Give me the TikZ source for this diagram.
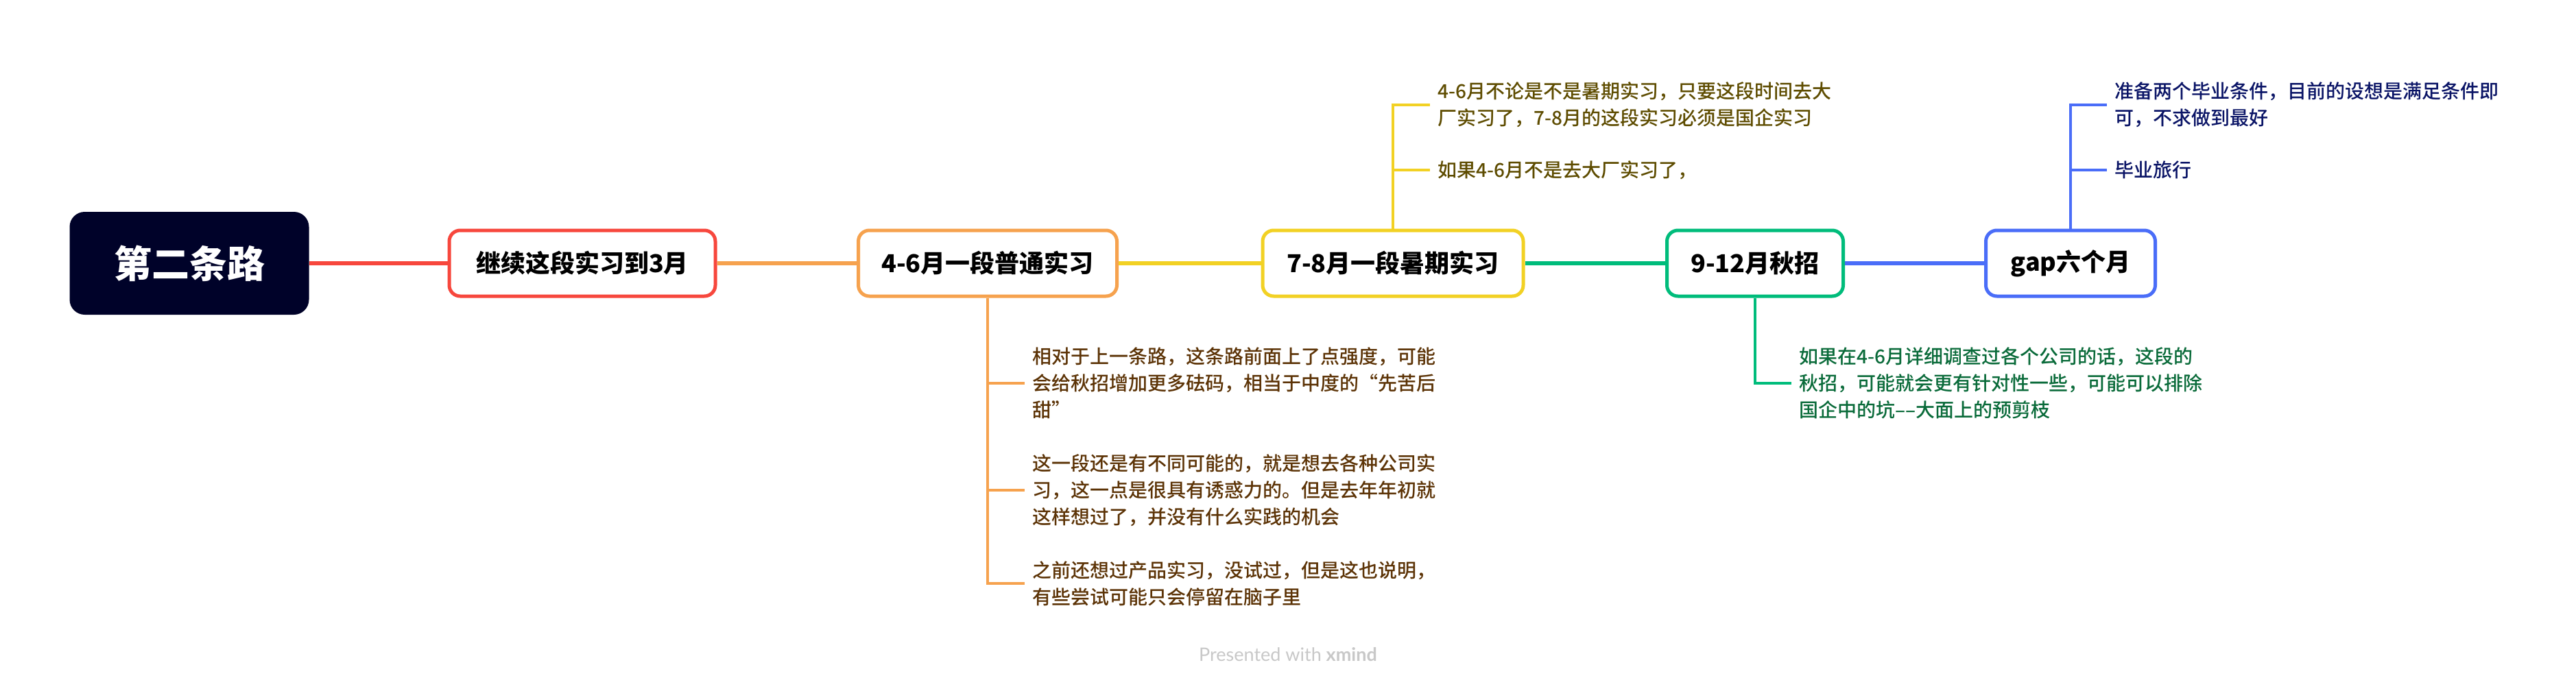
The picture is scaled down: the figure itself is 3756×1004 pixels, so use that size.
\documentclass[tikz,border=0pt]{standalone}
\usepackage{fontspec}
\setmainfont{Noto Sans CJK SC}
\newfontfamily\notefont{Noto Sans CJK SC Medium}
\newfontfamily\markfont{Lato}
\definecolor{rootnavy}{HTML}{000229}
\definecolor{redline}{HTML}{F7473D}
\definecolor{orangeline}{HTML}{F6A24E}
\definecolor{yellowline}{HTML}{F2D124}
\definecolor{greenline}{HTML}{00BC7B}
\definecolor{blueline}{HTML}{4A6DF8}
\definecolor{olivetext}{HTML}{5E4C00}
\definecolor{navytext}{HTML}{0A1466}
\definecolor{browntext}{HTML}{5C3306}
\definecolor{greentext}{HTML}{0A6B3A}
\definecolor{markgray}{HTML}{C8C8C8}
\tikzset{
root/.style={fill=rootnavy,rounded corners=22pt,minimum width=349pt,minimum height=150pt,text=white,font=\bfseries\fontsize{55}{66}\selectfont},
topic/.style={draw,line width=5pt,fill=white,rounded corners=16pt,minimum height=96pt,font=\bfseries\fontsize{36}{44}\selectfont},
note/.style={anchor=west,align=left,inner xsep=11pt,font=\notefont\fontsize{28}{39}\selectfont},
link/.style={line width=6pt},
twig/.style={line width=3.5pt}}
\begin{document}
\begin{tikzpicture}[x=1pt,y=-1pt]
\fill[white] (0,0) rectangle (3756,1004);
\useasboundingbox (0,0) rectangle (3756,1004);
\node[root] (road) at (276,384) {第二条路};
\node[topic,draw=redline,minimum width=388pt] (keep) at (849,384) {继续这段实习到3月};
\node[topic,draw=orangeline,minimum width=377pt] (spring) at (1440,384) {4-6月一段普通实习};
\node[topic,draw=yellowline,minimum width=380pt] (summer) at (2031,384) {7-8月一段暑期实习};
\node[topic,draw=greenline,minimum width=257pt] (autumn) at (2559,384) {9-12月秋招};
\node[topic,draw=blueline,minimum width=247pt] (gap) at (3019,384) {gap六个月};
\draw[link,redline] (road.east)--(keep.west);
\draw[link,orangeline] (keep.east)--(spring.west);
\draw[link,yellowline] (spring.east)--(summer.west);
\draw[link,greenline] (summer.east)--(autumn.west);
\draw[link,blueline] (autumn.east)--(gap.west);
% notes above
\node[note,text=olivetext] (sumA) at (2085,153) {4-6月不论是不是暑期实习，只要这段时间去大\\厂实习了，7-8月的这段实习必须是国企实习};
\node[note,text=olivetext] (sumB) at (2085,248) {如果4-6月不是去大厂实习了，};
\draw[twig,yellowline] (summer.north)|-(sumA.west);
\draw[twig,yellowline] (summer.north)|-(sumB.west);
\node[note,text=navytext] (gapA) at (3072,153) {准备两个毕业条件，目前的设想是满足条件即\\可，不求做到最好};
\node[note,text=navytext] (gapB) at (3072,248) {毕业旅行};
\draw[twig,blueline] (gap.north)|-(gapA.west);
\draw[twig,blueline] (gap.north)|-(gapB.west);
% notes below
\node[note,text=browntext] (sprA) at (1494,559) {相对于上一条路，这条路前面上了点强度，可能\\会给秋招增加更多砝码，相当于中度的“先苦后\\甜”};
\node[note,text=browntext] (sprB) at (1494,715) {这一段还是有不同可能的，就是想去各种公司实\\习，这一点是很具有诱惑力的。但是去年年初就\\这样想过了，并没有什么实践的机会};
\node[note,text=browntext] (sprC) at (1494,851) {之前还想过产品实习，没试过，但是这也说明，\\有些尝试可能只会停留在脑子里};
\draw[twig,orangeline] (spring.south)|-(sprA.west);
\draw[twig,orangeline] (spring.south)|-(sprB.west);
\draw[twig,orangeline] (spring.south)|-(sprC.west);
\node[note,text=greentext] (autA) at (2612,559) {如果在4-6月详细调查过各个公司的话，这段的\\秋招，可能就会更有针对性一些，可能可以排除\\国企中的坑––大面上的预剪枝};
\draw[twig,greenline] (autumn.south)|-(autA.west);
\node[font=\markfont\fontsize{27}{32}\selectfont,text=markgray] (mark) at (1878,955) {Presented with \textbf{xmind}};
\end{tikzpicture}
\end{document}
